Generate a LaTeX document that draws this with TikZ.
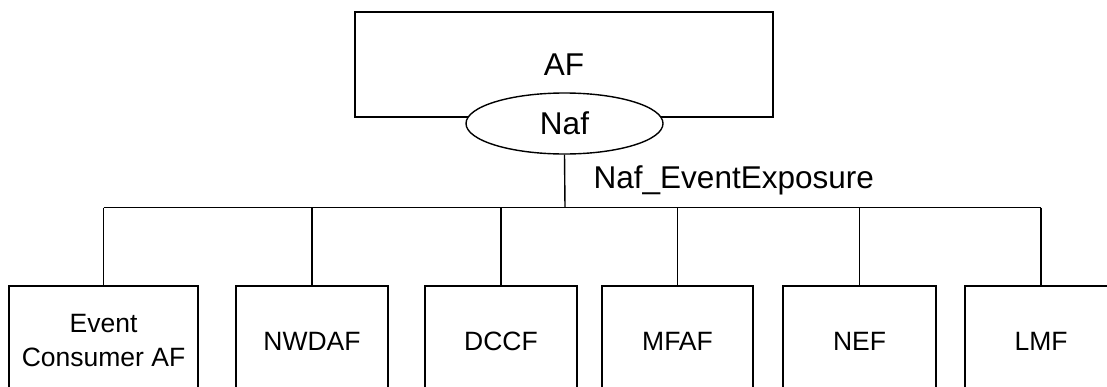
\documentclass[tikz,border=0pt]{standalone}
\usepackage{fontspec}
\setmainfont{Liberation Sans}
\usetikzlibrary{shapes.geometric}
\begin{document}
\begin{tikzpicture}[x=1pt,y=-1pt,
  line width=1.4pt,
  bigtext/.style={font=\fontsize{31.5}{35}\selectfont},
  boxtext/.style={font=\fontsize{26.5}{34}\selectfont},
  afbox/.style={draw, rectangle, minimum width=418pt, minimum height=105pt, inner sep=0pt, bigtext},
  ifellipse/.style={draw, ellipse, fill=white, minimum width=197pt, minimum height=61pt, inner sep=0pt, bigtext},
  nfbox/.style={draw, rectangle, minimum height=110pt, inner sep=0pt, boxtext, align=center},
  link/.style={draw, line width=1.4pt}
]
\clip (0,0) rectangle (1107,386);
\fill[white] (0,0) rectangle (1107,386);

\node[afbox] (af) at (564,64.5) {AF};
\node[ifellipse] (naf) at (564.5,123.5) {Naf};

\coordinate (busmid) at (565,207.5);

\node[nfbox, minimum width=189pt] (b1) at (103.5,341) {Event\\Consumer AF};
\node[nfbox, minimum width=152pt] (b2) at (312,341) {NWDAF};
\node[nfbox, minimum width=152pt] (b3) at (501,341) {DCCF};
\node[nfbox, minimum width=151pt] (b4) at (677.5,341) {MFAF};
\node[nfbox, minimum width=153pt] (b5) at (859.5,341) {NEF};
\node[nfbox, minimum width=152pt] (b6) at (1041,341) {LMF};

\node[bigtext, anchor=west, inner sep=0pt] (lbl) at (593,180) {Naf\_EventExposure};

\path[link] (naf.south) -- (busmid);
\path[link] (b1.north |- busmid) -- (b6.north |- busmid);
\foreach \b in {b1,b2,b3,b4,b5,b6} {
  \path[link] (\b.north |- busmid) -- (\b.north);
}
\end{tikzpicture}
\end{document}
